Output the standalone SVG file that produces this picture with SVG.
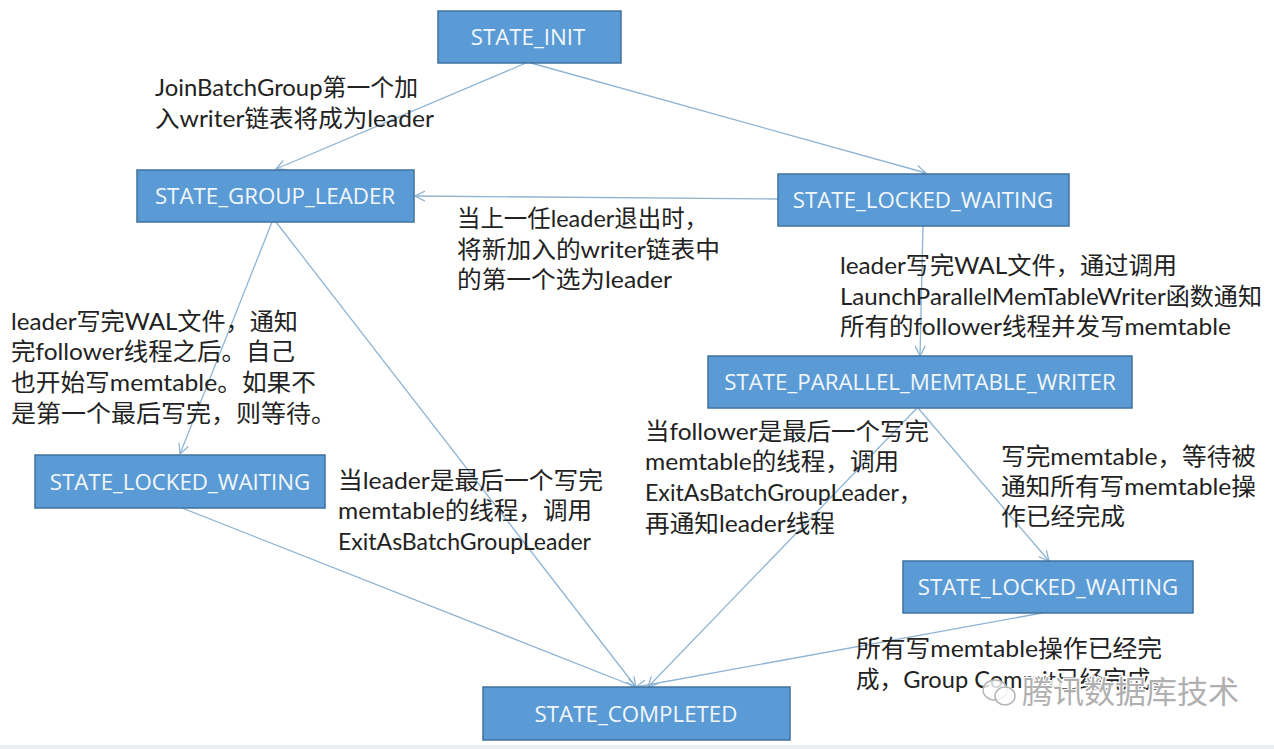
<svg xmlns="http://www.w3.org/2000/svg" width="1274" height="749" viewBox="0 0 1274 749">
<style>
.n{fill:#5b9bd5;stroke:#41719c;stroke-width:1.5}
.s{font:22.3px "Open Sans","Noto Sans CJK SC",sans-serif;fill:#f2f7fc;text-anchor:middle}
.t{font:23.6px "Lato","Noto Sans CJK SC",sans-serif;fill:#222}
.c{fill:none;stroke:#8fb4d3;stroke-width:1.3;marker-end:url(#a)}
.w{font:31px "Noto Sans CJK SC",sans-serif;fill:#b0b0b0;stroke:#fff;stroke-width:2.5;paint-order:stroke}
</style>
<defs><marker id="a" markerWidth="14" markerHeight="14" refX="11" refY="6" orient="auto" markerUnits="userSpaceOnUse"><path d="M1 1L11 6L1 11" fill="none" stroke="#8fb4d3" stroke-width="1.3"/></marker></defs>
<rect width="1274" height="749" fill="#fff"/>
<rect y="745" width="1274" height="4" fill="#eeeef6"/>
<g id="connectors">
<path class="c" d="M526 63L276 169"/>
<path class="c" d="M531 63L926 173"/>
<path class="c" d="M778 199L415 196"/>
<path class="c" d="M272 222L180 454"/>
<path class="c" d="M276 222L636 687"/>
<path class="c" d="M923 226L920 356"/>
<path class="c" d="M917 408L648 687"/>
<path class="c" d="M918 408L1049 561"/>
<path class="c" d="M182 508L636 687"/>
<path class="c" d="M1042 613L636 687"/>
</g>
<g id="state-init"><rect class="n" x="438" y="11" width="183" height="52"/><text class="s" x="528" y="45">STATE_INIT</text></g>
<g id="state-group-leader"><rect class="n" x="137" y="170" width="277" height="52"/><text class="s" x="275" y="204">STATE_GROUP_LEADER</text></g>
<g id="state-locked-waiting-1"><rect class="n" x="778" y="174" width="291" height="52"/><text class="s" x="923" y="208">STATE_LOCKED_WAITING</text></g>
<g id="state-parallel"><rect class="n" x="708" y="356" width="424" height="52"/><text class="s" x="920" y="390">STATE_PARALLEL_MEMTABLE_WRITER</text></g>
<g id="state-locked-waiting-2"><rect class="n" x="35" y="455" width="290" height="53"/><text class="s" x="180" y="490">STATE_LOCKED_WAITING</text></g>
<g id="state-locked-waiting-3"><rect class="n" x="903" y="561" width="290" height="52"/><text class="s" x="1048" y="595">STATE_LOCKED_WAITING</text></g>
<g id="state-completed"><rect class="n" x="483" y="687" width="307" height="53"/><text class="s" x="636" y="722">STATE_COMPLETED</text></g>
<g id="labels" lengthAdjust="spacingAndGlyphs">
<text class="t" x="155" y="96" textLength="263" lengthAdjust="spacingAndGlyphs">JoinBatchGroup第一个加</text>
<text class="t" x="155" y="127" textLength="279" lengthAdjust="spacingAndGlyphs">入writer链表将成为leader</text>
<text class="t" x="457" y="227" textLength="251" lengthAdjust="spacingAndGlyphs">当上一任leader退出时，</text>
<text class="t" x="457" y="258" textLength="263" lengthAdjust="spacingAndGlyphs">将新加入的writer链表中</text>
<text class="t" x="457" y="288" textLength="215" lengthAdjust="spacingAndGlyphs">的第一个选为leader</text>
<text class="t" x="840" y="274" textLength="337" lengthAdjust="spacingAndGlyphs">leader写完WAL文件，通过调用</text>
<text class="t" x="840" y="305" textLength="422" lengthAdjust="spacingAndGlyphs">LaunchParallelMemTableWriter函数通知</text>
<text class="t" x="840" y="335" textLength="391" lengthAdjust="spacingAndGlyphs">所有的follower线程并发写memtable</text>
<text class="t" x="11" y="330" textLength="287" lengthAdjust="spacingAndGlyphs">leader写完WAL文件，通知</text>
<text class="t" x="11" y="360" textLength="284" lengthAdjust="spacingAndGlyphs">完follower线程之后。自己</text>
<text class="t" x="11" y="391" textLength="305" lengthAdjust="spacingAndGlyphs">也开始写memtable。如果不</text>
<text class="t" x="11" y="422" textLength="325" lengthAdjust="spacingAndGlyphs">是第一个最后写完，则等待。</text>
<text class="t" x="338" y="489" textLength="265" lengthAdjust="spacingAndGlyphs">当leader是最后一个写完</text>
<text class="t" x="338" y="519" textLength="254" lengthAdjust="spacingAndGlyphs">memtable的线程，调用</text>
<text class="t" x="338" y="550" textLength="253" lengthAdjust="spacingAndGlyphs">ExitAsBatchGroupLeader</text>
<text class="t" x="645" y="440" textLength="284" lengthAdjust="spacingAndGlyphs">当follower是最后一个写完</text>
<text class="t" x="645" y="470" textLength="254" lengthAdjust="spacingAndGlyphs">memtable的线程，调用</text>
<text class="t" x="645" y="501" textLength="277" lengthAdjust="spacingAndGlyphs">ExitAsBatchGroupLeader，</text>
<text class="t" x="645" y="532" textLength="190" lengthAdjust="spacingAndGlyphs">再通知leader线程</text>
<text class="t" x="1001" y="465" textLength="255" lengthAdjust="spacingAndGlyphs">写完memtable，等待被</text>
<text class="t" x="1001" y="495" textLength="255" lengthAdjust="spacingAndGlyphs">通知所有写memtable操</text>
<text class="t" x="1001" y="525" textLength="124" lengthAdjust="spacingAndGlyphs">作已经完成</text>
<text class="t" x="856" y="657" textLength="306" lengthAdjust="spacingAndGlyphs">所有写memtable操作已经完</text>
<text class="t" x="856" y="688" textLength="318" lengthAdjust="spacingAndGlyphs">成，Group Commit已经完成。</text>
</g>
<g id="watermark">
<g fill="#fff" fill-opacity=".8" stroke="#b5b5b5" stroke-width="1.5"><ellipse cx="995" cy="690" rx="12" ry="10"/><ellipse cx="1005" cy="696" rx="10" ry="9"/></g>
<text class="w" x="1022" y="703">腾讯数据库技术</text>
</g>
</svg>
